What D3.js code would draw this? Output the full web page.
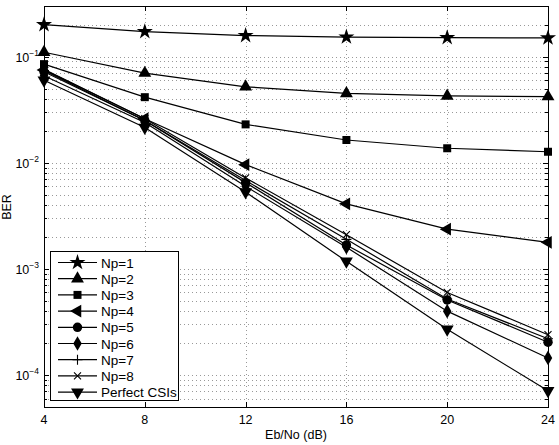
<!DOCTYPE html>
<html>
<head>
<meta charset="utf-8">
<script src="https://cdn.jsdelivr.net/npm/d3@7"></script>
<style>
  body { margin: 0; background: #fff; }
  svg { font-family: "Liberation Sans", Arial, sans-serif; }
</style>
</head>
<body>
<div id="chart"></div>
<script>
// data
var snr = [4, 8, 12, 16, 20, 24];
var seriesNames = ["Np=1", "Np=2", "Np=3", "Np=4", "Np=5", "Np=6", "Np=7", "Np=8", "Perfect CSIs"];
var np1 = [0.2, 0.172, 0.158, 0.153, 0.151, 0.15];
var np2 = [0.11, 0.07, 0.052, 0.045, 0.0426, 0.042];
var np3 = [0.085, 0.0415, 0.023, 0.0164, 0.0137, 0.0127];
var np4 = [0.075, 0.026, 0.0096, 0.0041, 0.00237, 0.00178];
var np5 = [0.072, 0.025, 0.0065, 0.00168, 0.00051, 0.000204];
var np6 = [0.066, 0.024, 0.006, 0.0016, 0.0004, 0.000145];
var np7 = [0.074, 0.025, 0.0068, 0.0019, 0.00052, 0.00022];
var np8 = [0.076, 0.026, 0.0072, 0.0021, 0.0006, 0.00024];
var perfect = [0.06, 0.0215, 0.0053, 0.00118, 0.00027, 0.000071];
var markers = ["star", "triangle", "square", "left", "circle", "diamond", "plus", "x", "down"];
var xTicks = [4, 8, 12, 16, 20, 24];
var yTicks = [1e-4, 1e-3, 1e-2, 1e-1];

var allSeries = [np1, np2, np3, np4, np5, np6, np7, np8, perfect];

var w = 559, h = 445;
var pLeft = 44, pRight = 548, pTop = 6, pBottom = 407;

var svg = d3.select("#chart").append("svg").attr("width", w).attr("height", h);

var x = d3.scaleLinear().domain([4, 24]).range([pLeft, pRight]);
var y = d3.scaleLog().domain([5e-5, 0.3]).range([pBottom, pTop]);

// minor log positions
var minorY = [];
[-5, -4, -3, -2, -1].forEach(function(e) {
    for (var k = 1; k <= 9; k++) {
        var v = +(k * Math.pow(10, e)).toPrecision(3);
        if (v >= 5e-5 && v <= 0.3) minorY.push(v);
    }
});

// grid
var grid = svg.append("g").attr("stroke", "#999").attr("stroke-width", 1).attr("stroke-dasharray", "1,3");
grid.selectAll("line.gy").data(minorY).enter().append("line")
    .attr("x1", pLeft).attr("x2", pRight)
    .attr("y1", function(d) { return Math.round(y(d)) + 0.5; })
    .attr("y2", function(d) { return Math.round(y(d)) + 0.5; });
grid.selectAll("line.gx").data(xTicks.slice(1, -1)).enter().append("line")
    .attr("x1", function(d) { return Math.round(x(d)) + 0.5; })
    .attr("x2", function(d) { return Math.round(x(d)) + 0.5; })
    .attr("y1", pTop).attr("y2", pBottom);

// axes box and inward ticks
var ax = svg.append("g").attr("stroke", "#000").attr("stroke-width", 1);
ax.append("rect").attr("x", pLeft + 0.5).attr("y", pTop + 0.5)
    .attr("width", pRight - pLeft).attr("height", pBottom - pTop).attr("fill", "none");

xTicks.forEach(function(t) {
    var px = Math.round(x(t)) + 0.5;
    ax.append("line").attr("x1", px).attr("x2", px).attr("y1", pBottom).attr("y2", pBottom - 5);
    ax.append("line").attr("x1", px).attr("x2", px).attr("y1", pTop).attr("y2", pTop + 5);
});
minorY.forEach(function(v) {
    var major = yTicks.indexOf(v) >= 0;
    var len = major ? 5 : 3;
    var py = Math.round(y(v)) + 0.5;
    ax.append("line").attr("x1", pLeft).attr("x2", pLeft + len).attr("y1", py).attr("y2", py);
    ax.append("line").attr("x1", pRight).attr("x2", pRight - len).attr("y1", py).attr("y2", py);
});

// tick labels
svg.selectAll("text.xt").data(xTicks).enter().append("text")
    .attr("x", function(d) { return x(d); })
    .attr("y", 424)
    .attr("text-anchor", "middle")
    .attr("font-size", "12.5px")
    .text(function(d) { return d; });

var yl = svg.selectAll("text.yt").data(yTicks).enter().append("text")
    .attr("x", 39)
    .attr("y", function(d) { return y(d) + 5; })
    .attr("text-anchor", "end")
    .attr("font-size", "12.5px");
yl.append("tspan").text("10");
yl.append("tspan").attr("dy", -6).attr("font-size", "8.5px")
    .text(function(d) { return "\u2212" + Math.round(-Math.log10(d)); });

// axis titles
svg.append("text").attr("x", 296).attr("y", 439).attr("text-anchor", "middle")
    .attr("font-size", "12.5px").text("Eb/No (dB)");
svg.append("text").attr("transform", "translate(11," + 207 + ") rotate(-90)")
    .attr("text-anchor", "middle").attr("font-size", "12.5px").text("BER");

// marker drawing
function drawMarker(g, type, cx, cy) {
    var s;
    if (type === "plus") {
        g.append("path").attr("d", "M" + (cx - 5) + "," + cy + "H" + (cx + 5) + "M" + cx + "," + (cy - 5) + "V" + (cy + 5))
            .attr("stroke", "#000").attr("stroke-width", 1.1).attr("fill", "none");
        return;
    }
    if (type === "x") {
        g.append("path").attr("d", "M" + (cx - 3.5) + "," + (cy - 3.5) + "L" + (cx + 3.5) + "," + (cy + 3.5) +
            "M" + (cx - 3.5) + "," + (cy + 3.5) + "L" + (cx + 3.5) + "," + (cy - 3.5))
            .attr("stroke", "#000").attr("stroke-width", 1.1).attr("fill", "none");
        return;
    }
    var rot = 0;
    if (type === "star") s = d3.symbol().type(d3.symbolStar).size(80);
    if (type === "triangle") s = d3.symbol().type(d3.symbolTriangle).size(72);
    if (type === "left") { s = d3.symbol().type(d3.symbolTriangle).size(72); rot = -90; }
    if (type === "down") { s = d3.symbol().type(d3.symbolTriangle).size(72); rot = 180; }
    if (type === "square") s = d3.symbol().type(d3.symbolSquare).size(64);
    if (type === "circle") s = d3.symbol().type(d3.symbolCircle).size(70);
    if (type === "diamond") s = d3.symbol().type(d3.symbolDiamond).size(62);
    g.append("path").attr("d", s())
        .attr("transform", "translate(" + cx + "," + cy + ") rotate(" + rot + ")")
        .attr("fill", "#000");
}

var line = d3.line()
    .x(function(d, i) { return x(snr[i]); })
    .y(function(d) { return y(d); });

var plot = svg.append("g");
allSeries.forEach(function(vals, k) {
    var g = plot.append("g");
    g.append("path").datum(vals).attr("d", line)
        .attr("fill", "none").attr("stroke", "#000").attr("stroke-width", 1.2);
    vals.forEach(function(v, i) {
        drawMarker(g, markers[k], x(snr[i]), y(v));
    });
});

// legend
var lg = svg.append("g");
lg.append("rect").attr("x", 50.5).attr("y", 251.5).attr("width", 128).attr("height", 149)
    .attr("fill", "#fff").attr("stroke", "#000").attr("stroke-width", 1);
seriesNames.forEach(function(name, k) {
    var ly = 262.5 + k * 16.2;
    lg.append("line").attr("x1", 58).attr("x2", 97).attr("y1", ly).attr("y2", ly)
        .attr("stroke", "#000").attr("stroke-width", 1.2);
    drawMarker(lg, markers[k], 77.5, ly);
    lg.append("text").attr("x", 101).attr("y", ly + 5).attr("font-size", "13.5px").text(name);
});
</script>
</body>
</html>
